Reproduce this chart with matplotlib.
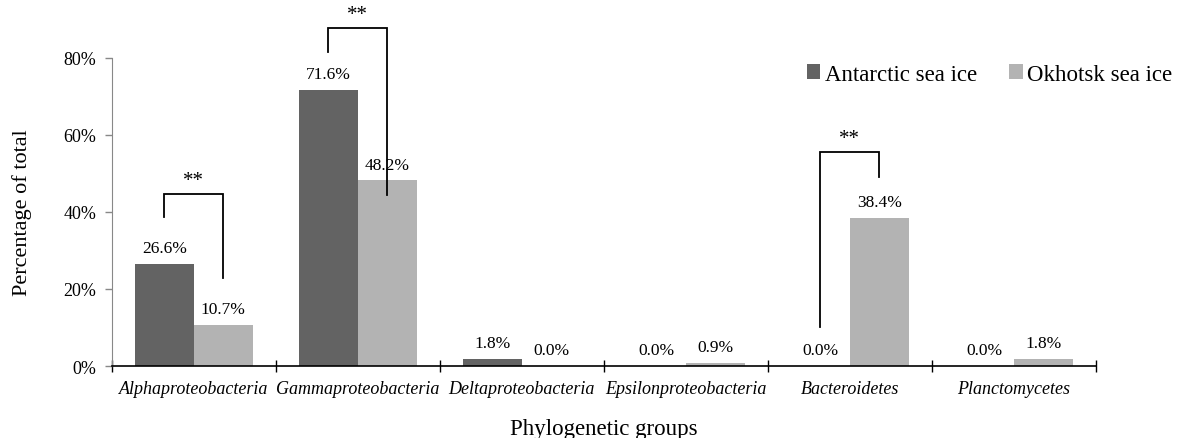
import numpy as np
import matplotlib.pyplot as plt
from matplotlib.ticker import FuncFormatter

plt.rcParams['font.family'] = ['Liberation Serif', 'DejaVu Serif']

groups = ['Alphaproteobacteria', 'Gammaproteobacteria', 'Deltaproteobacteria',
          'Epsilonproteobacteria', 'Bacteroidetes', 'Planctomycetes']
antarctic = [26.6, 71.6, 1.8, 0.0, 0.0, 0.0]
okhotsk = [10.7, 48.2, 0.0, 0.9, 38.4, 1.8]

# significance brackets: (group index, bracket top, left leg end, right leg end)
brackets = [(0, 44.7, 38.7, 22.9), (1, 87.8, 81.6, 44.4), (4, 55.6, 10.1, 49.1)]

dark = '#636363'
light = '#b3b3b3'
w = 0.36

fig = plt.figure(figsize=(11.77, 4.39), dpi=100)
ax = fig.add_axes([0.095, 0.164, 0.836, 0.702])

x = np.arange(len(groups))
b1 = ax.bar(x - w / 2, antarctic, w, color=dark, label='Antarctic sea ice')
b2 = ax.bar(x + w / 2, okhotsk, w, color=light, label='Okhotsk sea ice')

for bars, vals in ((b1, antarctic), (b2, okhotsk)):
    for r, v in zip(bars, vals):
        ax.text(r.get_x() + r.get_width() / 2, v + 2.0, f'{v:.1f}%',
                ha='center', va='bottom', fontsize=12.5)

for i, top, left_end, right_end in brackets:
    xl, xr = i - w / 2, i + w / 2
    ax.plot([xl, xl, xr, xr], [left_end, top, top, right_end], color='black',
            lw=1.3, clip_on=False, solid_joinstyle='miter')
    ax.text(i, top + 1.0, '**', ha='center', va='bottom', fontsize=15)

ax.set_xlim(-0.5, len(groups) - 0.5)
ax.set_ylim(0, 80)
ax.set_yticks([0, 20, 40, 60, 80])
ax.yaxis.set_major_formatter(FuncFormatter(lambda v, p: f'{v:.0f}%'))

ax.set_xticks(np.arange(len(groups) + 1) - 0.5, minor=False)
ax.set_xticklabels([])
ax.set_xticks(x, minor=True)
ax.set_xticklabels(groups, minor=True, style='italic', fontsize=13)
ax.tick_params(axis='x', which='minor', length=0, pad=10)
ax.tick_params(axis='x', which='major', direction='inout', length=8, width=1)
ax.tick_params(axis='y', length=5, width=1, labelsize=13, color='#888888', pad=6)

for s in ('top', 'right'):
    ax.spines[s].set_visible(False)
ax.spines['left'].set_color('#888888')
ax.spines['bottom'].set_linewidth(1.2)

fig.text(0.019, 0.515, 'Percentage of total', rotation=90, ha='center',
         va='center', fontsize=16)
fig.text(0.513, 0.022, 'Phylogenetic groups', ha='center', va='center',
         fontsize=16.5)

ax.legend(loc='upper right', bbox_to_anchor=(1.099, 1.048), ncol=2, frameon=False,
          fontsize=16.5, handlelength=0.6, handleheight=0.6, handletextpad=0.2,
          columnspacing=1.4)

fig.savefig('out.png', dpi=100)
